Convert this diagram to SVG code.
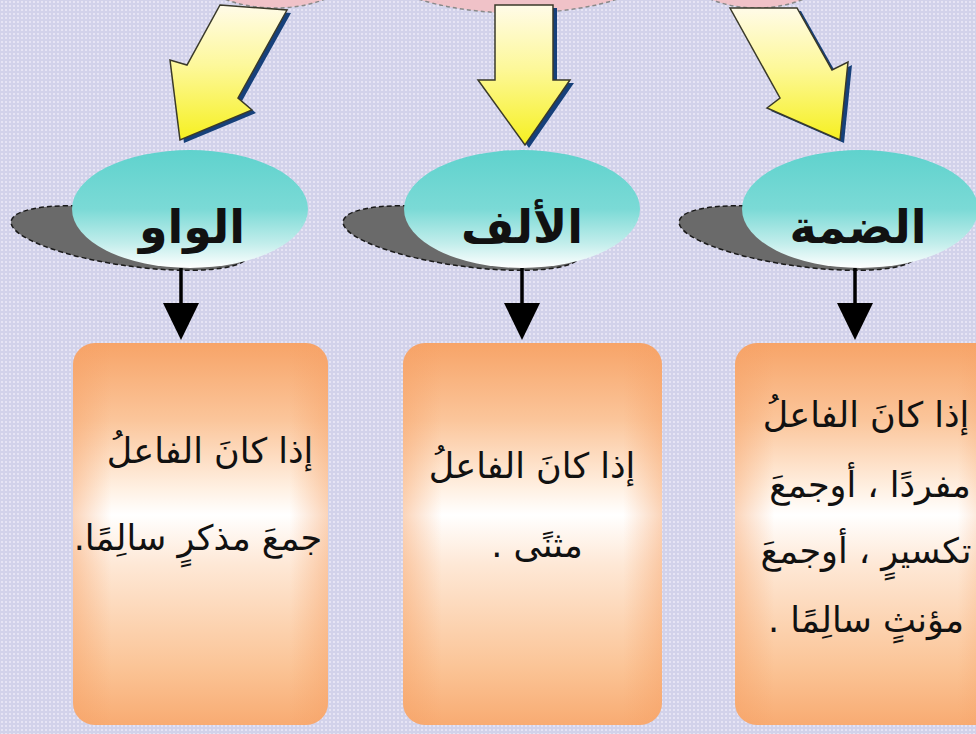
<svg xmlns="http://www.w3.org/2000/svg" width="976" height="734" viewBox="0 0 976 734">
<defs>
  <pattern id="dots" width="4" height="4" patternUnits="userSpaceOnUse">
    <rect width="4" height="4" fill="#d2d2ea"/>
    <rect x="1" y="1" width="2" height="2" fill="#e6e4f4"/>
  </pattern>
  <linearGradient id="yel" x1="0" y1="0" x2="0" y2="1">
    <stop offset="0" stop-color="#fffbe8"/>
    <stop offset="0.45" stop-color="#fdf89a"/>
    <stop offset="1" stop-color="#f6f020"/>
  </linearGradient>
  <linearGradient id="teal" x1="0" y1="0" x2="0" y2="1">
    <stop offset="0" stop-color="#5fd2cd"/>
    <stop offset="0.5" stop-color="#7bdad6"/>
    <stop offset="0.8" stop-color="#c4eeec"/>
    <stop offset="1" stop-color="#ffffff"/>
  </linearGradient>
  <linearGradient id="orangeV" x1="0" y1="0" x2="0" y2="1">
    <stop offset="0" stop-color="#f7a468"/>
    <stop offset="0.2" stop-color="#fbc59a"/>
    <stop offset="0.38" stop-color="#fff0e2"/>
    <stop offset="0.45" stop-color="#ffffff"/>
    <stop offset="0.58" stop-color="#fee8d6"/>
    <stop offset="0.85" stop-color="#fbc496"/>
    <stop offset="1" stop-color="#f8ab72"/>
  </linearGradient>
  <linearGradient id="orangeH" x1="0" y1="0" x2="1" y2="0">
    <stop offset="0" stop-color="#f6a064" stop-opacity="0.45"/>
    <stop offset="0.15" stop-color="#f6a064" stop-opacity="0"/>
    <stop offset="0.85" stop-color="#f6a064" stop-opacity="0"/>
    <stop offset="1" stop-color="#f6a064" stop-opacity="0.45"/>
  </linearGradient>
  <style>
    .bg { fill: url(#dots); }
    .cloud { fill: #f0c2c8; stroke: #8a8a8a; stroke-width: 1.5; stroke-dasharray: 4 3; }
    .yarrow { fill: url(#yel); stroke: #3a3a2a; stroke-width: 1.5; stroke-linejoin: miter; }
    .yshadow { fill: #16407a; }
    .shadow { fill: #6a6a6a; stroke: #1a1a1a; stroke-width: 1.5; stroke-dasharray: 5 3; }
    .oval { fill: url(#teal); }
    .label { font-family: "DejaVu Sans", sans-serif; font-weight: bold; font-size: 46px; fill: #111; text-anchor: middle; }
    .conn { stroke: #000; stroke-width: 3.5; fill: none; }
    .conn-head { fill: #000; }
    .box { fill: url(#orangeV); }
    .boxh { fill: url(#orangeH); }
    .btext { font-family: "DejaVu Sans", sans-serif; font-size: 35px; fill: #111; text-anchor: middle; direction: rtl; }
  </style>
</defs>

<rect class="bg" x="0" y="0" width="976" height="734"/>

<!-- top source shapes (cut by the frame) -->
<g id="source">
  <ellipse class="cloud" cx="275" cy="-30" rx="78" ry="38"/>
  <ellipse class="cloud" cx="518" cy="-42" rx="150" ry="55"/>
  <ellipse class="cloud" cx="757" cy="-30" rx="72" ry="38"/>
</g>

<!-- yellow block arrows -->
<g id="arrows-yellow">
  <g transform="translate(4,3)">
    <polygon class="yshadow" points="220,5 287,10 238,98 252,110 180,140 170,60 187,65"/>
    <polygon class="yshadow" points="495,5 553,5 553,80 570,80 525,145 478,80 495,80"/>
    <polygon class="yshadow" points="730,8 797,8 832,70 848,62 840,140 767,108 780,98"/>
  </g>
  <polygon class="yarrow" points="220,5 287,10 238,98 252,110 180,140 170,60 187,65"/>
  <polygon class="yarrow" points="495,5 553,5 553,80 570,80 525,145 478,80 495,80"/>
  <polygon class="yarrow" points="730,8 797,8 832,70 848,62 840,140 767,108 780,98"/>
</g>

<!-- ovals -->
<g id="node-waw">
  <ellipse class="shadow" cx="130" cy="238" rx="120" ry="28" transform="rotate(8 130 238)"/>
  <ellipse class="oval" cx="190" cy="209" rx="118" ry="59"/>
  <text class="label" x="192" y="243">الواو</text>
</g>
<g id="node-alif">
  <ellipse class="shadow" cx="462" cy="238" rx="120" ry="28" transform="rotate(8 462 238)"/>
  <ellipse class="oval" cx="522" cy="209" rx="118" ry="59"/>
  <text class="label" x="522" y="243">الألف</text>
</g>
<g id="node-damma">
  <ellipse class="shadow" cx="798" cy="238" rx="120" ry="28" transform="rotate(8 798 238)"/>
  <ellipse class="oval" cx="860" cy="209" rx="118" ry="59"/>
  <text class="label" x="858" y="243">الضمة</text>
</g>

<!-- connectors -->
<g id="connectors">
  <line class="conn" x1="181" y1="268" x2="181" y2="308"/>
  <polygon class="conn-head" points="163,303 199,303 181,340"/>
  <line class="conn" x1="522" y1="268" x2="522" y2="308"/>
  <polygon class="conn-head" points="504,303 540,303 522,340"/>
  <line class="conn" x1="855" y1="268" x2="855" y2="308"/>
  <polygon class="conn-head" points="837,303 873,303 855,340"/>
</g>

<!-- boxes -->
<g id="box-waw">
  <rect class="box" x="73" y="343" width="255" height="382" rx="22"/>
  <rect class="boxh" x="73" y="343" width="255" height="382" rx="22"/>
  <text class="btext" x="210" y="463">إذا كانَ الفاعلُ</text>
  <text class="btext" x="198" y="550">جمعَ مذكرٍ سالِمًا.</text>
</g>
<g id="box-alif">
  <rect class="box" x="403" y="343" width="259" height="382" rx="22"/>
  <rect class="boxh" x="403" y="343" width="259" height="382" rx="22"/>
  <text class="btext" x="532" y="478">إذا كانَ الفاعلُ</text>
  <text class="btext" x="537" y="557">مثنًى .</text>
</g>
<g id="box-damma">
  <rect class="box" x="735" y="343" width="262" height="382" rx="22"/>
  <rect class="boxh" x="735" y="343" width="262" height="382" rx="22"/>
  <text class="btext" x="866" y="427">إذا كانَ الفاعلُ</text>
  <text class="btext" x="870" y="497">مفردًا ، أوجمعَ</text>
  <text class="btext" x="866" y="563">تكسيرٍ ، أوجمعَ</text>
  <text class="btext" x="866" y="632">مؤنثٍ سالِمًا .</text>
</g>
</svg>
